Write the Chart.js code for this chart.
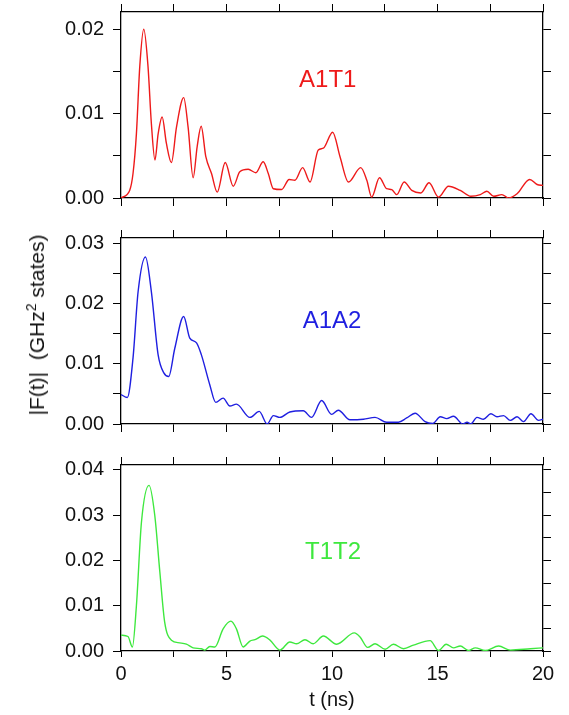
<!DOCTYPE html>
<html>
<head>
<meta charset="utf-8">
<script src="https://cdn.jsdelivr.net/npm/chart.js@4.4.1/dist/chart.umd.min.js"></script>
<style>
  html,body{margin:0;padding:0;background:#fff;}
  #wrap{position:relative;width:569px;height:715px;overflow:hidden;font-family:"Liberation Sans",Arial,sans-serif;}
  canvas{position:absolute;left:0;}
  #ytitle{position:absolute;left:36px;top:325px;transform:translate(-50%,-50%) rotate(-90deg);
    white-space:nowrap;font-size:21px;color:#111;}
  #ytitle sup{font-size:14px;}
</style>
</head>
<body>
<div id="wrap">
  <canvas id="c1" width="569" height="210" style="top:0px"></canvas>
  <canvas id="c2" width="569" height="210" style="top:226px"></canvas>
  <canvas id="c3" width="569" height="262" style="top:453px"></canvas>
  <div id="ytitle">|F(t)|&nbsp; (GHz<sup>2</sup> states)</div>
</div>
<script>
// values, t in ns, |F(t)| in GHz^2 states
const tA1T1 = [0, 0.41, 0.57, 0.73, 0.89, 1.08, 1.28, 1.44, 1.61, 1.76, 1.95, 2.15, 2.39, 2.63, 2.97, 3.18, 3.42, 3.61, 3.80, 4.02, 4.29, 4.56, 4.94, 5.32, 5.63, 6.03, 6.39, 6.74, 6.98, 7.22, 7.61, 7.97, 8.24, 8.61, 8.96, 9.35, 9.59, 10.03, 10.38, 10.78, 11.36, 11.65, 11.88, 12.25, 12.59, 12.83, 13.07, 13.42, 13.78, 14.21, 14.6, 15.05, 15.52, 16.08, 16.58, 17.03, 17.34, 17.66, 18.05, 18.37, 18.77, 19.37, 19.72, 20];
const fA1T1 = [0, 0.0009, 0.0029, 0.0076, 0.0156, 0.0200, 0.0156, 0.0088, 0.0045, 0.0076, 0.0096, 0.0065, 0.0042, 0.0084, 0.0119, 0.0084, 0.0024, 0.0061, 0.0085, 0.0049, 0.0029, 0.0007, 0.0042, 0.0014, 0.0031, 0.0034, 0.0030, 0.0043, 0.0029, 0.0011, 0.0010, 0.0022, 0.0021, 0.0036, 0.0019, 0.0057, 0.0059, 0.0078, 0.0049, 0.0019, 0.0036, 0.0021, 0.0001, 0.0024, 0.0011, 0.0010, 0.0004, 0.0019, 0.0009, 0.0006, 0.0018, 0.0001, 0.0014, 0.0009, 0.0002, 0.0004, 0.0008, 0.0002, 0.0004, 0.0000, 0.0005, 0.0022, 0.0016, 0.0015];

const tA1A2 = [0, 0.3, 0.57, 0.81, 1.16, 1.44, 1.76, 2.03, 2.26, 2.55, 2.97, 3.26, 3.58, 3.81, 4.21, 4.49, 4.84, 5.16, 5.47, 6.11, 6.55, 6.93, 7.22, 7.53, 8.0, 8.64, 9.03, 9.51, 9.98, 10.3, 10.85, 11.49, 12.04, 12.59, 13.15, 13.54, 13.94, 14.41, 14.78, 15.13, 15.44, 15.76, 16.2, 16.4, 16.58, 16.87, 17.18, 17.53, 17.82, 18.13, 18.45, 18.77, 19.08, 19.43, 19.79, 20];
const fA1A2 = [0.0049, 0.0044, 0.0110, 0.0220, 0.0278, 0.0220, 0.0115, 0.0085, 0.0079, 0.0126, 0.0179, 0.0143, 0.0135, 0.0115, 0.0065, 0.0036, 0.0043, 0.0030, 0.0033, 0.0011, 0.0021, 0.0000, 0.0014, 0.0011, 0.0020, 0.0022, 0.0011, 0.0039, 0.0016, 0.0023, 0.0007, 0.0008, 0.0011, 0.0003, 0.0003, 0.0010, 0.0018, 0.0004, 0.0001, 0.0012, 0.0009, 0.0013, 0.0000, 0.0003, 0.0000, 0.0011, 0.0008, 0.0017, 0.0012, 0.0014, 0.0006, 0.0012, 0.0004, 0.0017, 0.0006, 0.0008];

const tT1T2 = [0, 0.33, 0.54, 0.73, 0.97, 1.33, 1.6, 1.84, 2.07, 2.39, 2.78, 3.1, 3.42, 3.81, 3.97, 4.21, 4.45, 4.84, 5.21, 5.47, 5.79, 6.11, 6.35, 6.71, 7.06, 7.53, 8.0, 8.32, 8.72, 9.11, 9.59, 10.22, 11.06, 11.33, 11.69, 12.04, 12.52, 12.91, 13.39, 13.86, 14.65, 15.05, 15.41, 15.76, 16.08, 16.47, 16.79, 17.26, 17.9, 18.45, 19.4, 20];
const fT1T2 = [0.0035, 0.0032, 0.0009, 0.0100, 0.0285, 0.0366, 0.0300, 0.0175, 0.0064, 0.0024, 0.0018, 0.0015, 0.0007, 0.0005, 0.0002, 0.0010, 0.0009, 0.0049, 0.0066, 0.0049, 0.0009, 0.0022, 0.0025, 0.0033, 0.0024, 0.0002, 0.0020, 0.0016, 0.0025, 0.0016, 0.0033, 0.0015, 0.0040, 0.0031, 0.0008, 0.0016, 0.0004, 0.0015, 0.0005, 0.0013, 0.0023, 0.0001, 0.0015, 0.0007, 0.0011, 0.0001, 0.0007, 0.0001, 0.0011, 0.0002, 0.0005, 0.0007];

// axis ticks (labels only on the major ones)
const xTicks = [0, 2.5, 5, 7.5, 10, 12.5, 15, 17.5, 20];
const yTicksA1T1 = [0, 0.005, 0.01, 0.015, 0.02];
const yTicksA1A2 = [0, 0.005, 0.01, 0.015, 0.02, 0.025, 0.03];
const yTicksT1T2 = [0, 0.005, 0.01, 0.015, 0.02, 0.025, 0.03, 0.035, 0.04];

const FONT = '"Liberation Sans", Arial, sans-serif';

function isMult(v, step){ const r = v / step; return Math.abs(r - Math.round(r)) < 1e-6; }

// draws the panel name inside the plot, placed in data coordinates
const panelLabel = {
  id: 'panelLabel',
  afterDatasetsDraw(chart, args, opts){
    const {ctx, scales} = chart;
    ctx.save();
    ctx.font = '24px ' + FONT;
    ctx.fillStyle = opts.color;
    ctx.textAlign = 'center';
    ctx.textBaseline = 'middle';
    ctx.fillText(opts.text, scales.x.getPixelForValue(opts.x), scales.y.getPixelForValue(opts.y));
    ctx.restore();
  }
};

// fixed axis sizes so the three plot areas line up exactly
function fixSize(w, h){
  return (s) => {
    if (w !== null) s.width = w;
    if (h !== null) s.height = h;
    s.paddingTop = s.paddingBottom = s.paddingLeft = s.paddingRight = 0;
  };
}

function makePanel(id, times, values, color, yMax, yTicks, label, isBottom){
  const tickGrid = (len) => ({drawOnChartArea:false, drawTicks:true, tickLength:len, color:'#000', lineWidth:1});
  const border = {display:true, color:'#000', width:1.3};
  const setTicks = (arr) => (s) => { s.ticks = arr.map(v => ({value:v})); };

  return new Chart(document.getElementById(id), {
    type: 'line',
    data: {
      datasets: [{
        data: times.map((t, i) => ({x:t, y:values[i]})),
        borderColor: color,
        borderWidth: 1.4,
        pointRadius: 0,
        cubicInterpolationMode: 'monotone',
        fill: false
      }]
    },
    options: {
      responsive: false,
      animation: false,
      events: [],
      layout: {padding: {left:0, right:18, top:4, bottom: isBottom ? 0 : 4}},
      plugins: {legend:{display:false}, tooltip:{enabled:false}, panelLabel: label},
      scales: {
        x: {
          type:'linear', position:'bottom', min:0, max:20,
          afterBuildTicks: setTicks(xTicks),
          afterFit: fixSize(null, isBottom ? 64 : 8),
          grid: tickGrid(isBottom ? 6 : 8), border: border,
          ticks: {display:isBottom, color:'#111', padding:5, maxRotation:0, autoSkip:false,
            font:{family:FONT, size:20},
            callback: v => isMult(v, 5) ? String(v) : ''},
          title: {display:isBottom, text:'t (ns)', color:'#111', font:{family:FONT, size:20}, padding:{top:0, bottom:3}}
        },
        x2: {
          type:'linear', position:'top', min:0, max:20,
          afterBuildTicks: setTicks(xTicks),
          afterFit: fixSize(null, 8),
          grid: tickGrid(8), border: border,
          ticks: {display:false}
        },
        y: {
          type:'linear', position:'left', min:0, max:yMax,
          afterBuildTicks: setTicks(yTicks),
          afterFit: fixSize(121, null),
          grid: tickGrid(8), border: border,
          ticks: {color:'#111', padding:9, font:{family:FONT, size:20},
            callback: v => isMult(v, 0.01) ? v.toFixed(2) : ''}
        },
        y2: {
          type:'linear', position:'right', min:0, max:yMax,
          afterBuildTicks: setTicks(yTicks),
          afterFit: fixSize(8, null),
          grid: tickGrid(8), border: border,
          ticks: {display:false}
        }
      }
    },
    plugins: [panelLabel]
  });
}

makePanel('c1', tA1T1, fA1T1, '#ee1a1a', 0.02205, yTicksA1T1,
  {text:'A1T1', x:9.8, y:0.0140, color:'#ee1a1a'}, false);
makePanel('c2', tA1A2, fA1A2, '#1f1fe0', 0.03095, yTicksA1A2,
  {text:'A1A2', x:10.0, y:0.0170, color:'#1f1fe0'}, false);
makePanel('c3', tT1T2, fT1T2, '#3ee83e', 0.0411, yTicksT1T2,
  {text:'T1T2', x:10.05, y:0.0217, color:'#3ee83e'}, true);
</script>
</body>
</html>
